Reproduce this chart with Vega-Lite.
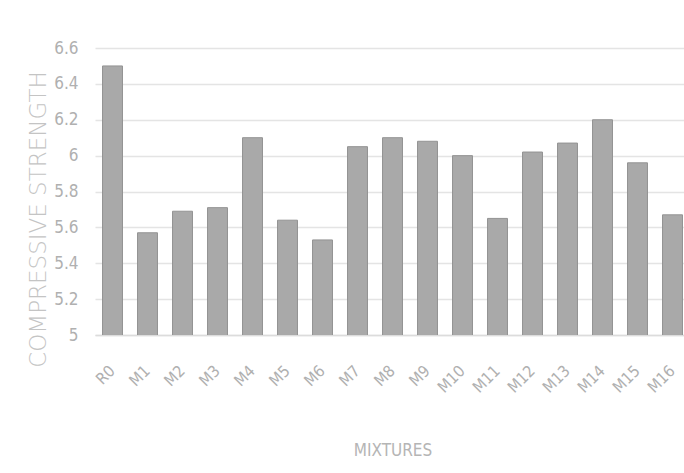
{
  "$schema": "https://vega.github.io/schema/vega-lite/v6.json",
  "autosize": {"type": "none"},
  "padding": {"left": 95, "top": 48, "right": 0, "bottom": 138},
  "width": 595,
  "height": 287,
  "background": "white",
  "data": {
    "values": [
      {"mix": "R0", "cs": 6.5},
      {"mix": "M1", "cs": 5.57},
      {"mix": "M2", "cs": 5.69},
      {"mix": "M3", "cs": 5.71},
      {"mix": "M4", "cs": 6.1},
      {"mix": "M5", "cs": 5.64},
      {"mix": "M6", "cs": 5.53},
      {"mix": "M7", "cs": 6.05},
      {"mix": "M8", "cs": 6.1},
      {"mix": "M9", "cs": 6.08},
      {"mix": "M10", "cs": 6.0},
      {"mix": "M11", "cs": 5.65},
      {"mix": "M12", "cs": 6.02},
      {"mix": "M13", "cs": 6.07},
      {"mix": "M14", "cs": 6.2},
      {"mix": "M15", "cs": 5.96},
      {"mix": "M16", "cs": 5.67}
    ]
  },
  "mark": {"type": "bar", "fill": "#a9a9a9", "stroke": "#939393", "strokeWidth": 1, "clip": true},
  "encoding": {
    "x": {
      "field": "mix",
      "type": "nominal",
      "sort": null,
      "scale": {"paddingInner": 0.43, "paddingOuter": 0.215},
      "axis": {
        "title": "MIXTURES",
        "titleFont": "'DejaVu Sans Condensed', Roboto, sans-serif",
        "titleFontSize": 17,
        "titleFontWeight": "normal",
        "titleColor": "#b5b5b5",
        "titleY": 115,
        "titleBaseline": "middle",
        "labelAngle": -45,
        "labelAlign": "right",
        "labelBaseline": "middle",
        "labelPadding": 33,
        "labelFont": "'DejaVu Sans Condensed', Roboto, sans-serif",
        "labelFontSize": 16,
        "labelColor": "#b0b0b0",
        "ticks": false,
        "domain": true,
        "domainColor": "#dcdcdc",
        "domainWidth": 1.5
      }
    },
    "y": {
      "field": "cs",
      "type": "quantitative",
      "scale": {"domain": [5, 6.6], "zero": false, "nice": false},
      "axis": {
        "values": [5, 5.2, 5.4, 5.6, 5.8, 6, 6.2, 6.4, 6.6],
        "format": "~g",
        "title": "COMPRESSIVE STRENGTH",
        "titleFont": "DejaVu Sans",
        "titleFontSize": 23,
        "titleFontWeight": 300,
        "titleColor": "#c4c4c4",
        "titleAngle": -90,
        "titleX": -57,
        "titleY": 171,
        "titleAlign": "center",
        "titleBaseline": "middle",
        "labelFont": "'DejaVu Sans Condensed', Roboto, sans-serif",
        "labelFontSize": 17,
        "labelColor": "#b0b0b0",
        "labelPadding": 17,
        "ticks": false,
        "domain": false,
        "grid": true,
        "gridColor": "#e4e4e4",
        "gridWidth": 1.5
      }
    }
  },
  "config": {"view": {"stroke": null}}
}
